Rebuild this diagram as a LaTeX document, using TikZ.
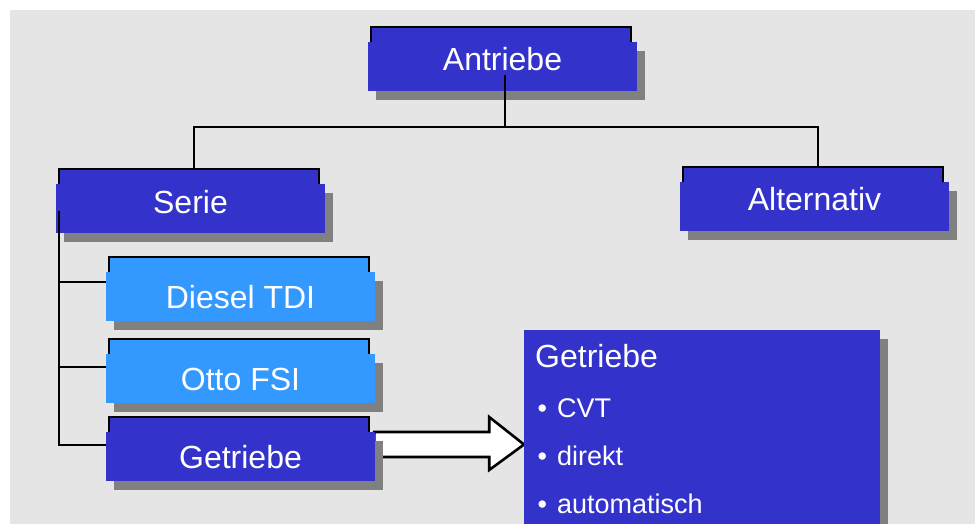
\documentclass[tikz,border=0pt]{standalone}
\usepackage{fontspec}
\setmainfont{Liberation Sans}
\usetikzlibrary{shadows,backgrounds}

\definecolor{boxblue}{RGB}{51,51,204}
\definecolor{lightblue}{RGB}{51,153,255}
\definecolor{shadowgray}{RGB}{128,128,128}
\definecolor{bggray}{RGB}{229,229,229}

\tikzset{
  chartbox/.style={fill=boxblue, text=white, inner sep=0pt,
    minimum width=269pt, minimum height=49pt,
    font=\fontsize{32}{36}\selectfont, text height=23pt, text depth=0pt,
    drop shadow={shadow xshift=8pt, shadow yshift=-9pt, fill=shadowgray, opacity=1}},
  headbox/.style={chartbox, text depth=14pt},
  enginebox/.style={chartbox, fill=lightblue},
  tab/.style={draw=black, line width=2pt},
  link/.style={line width=2pt},
  blockarrow/.style={draw=black, fill=white, line width=2.6pt, line join=miter},
  infotext/.style={text=white, anchor=base west, inner sep=0pt, font=\fontsize{27}{30}\selectfont}
}
\newcommand{\bulletitem}[1]{•\hspace{10pt}#1}

\begin{document}
\begin{tikzpicture}[x=1pt,y=-1pt]
\useasboundingbox (0,0) rectangle (975,524);

% boxes
\node[headbox] (top) at (502.5,66.5) {Antriebe};
\node[headbox] (serie) at (190.5,208.5) {Serie};
\node[headbox] (alt) at (814.5,206.5) {Alternativ};
\node[enginebox] (diesel) at (240.5,296.5) {Diesel TDI};
\node[enginebox] (otto) at (240.5,378.5) {Otto FSI};
\node[chartbox] (getr) at (240.5,456.5) {Getriebe};

% detail panel
\node[chartbox, anchor=north west, minimum width=356pt, minimum height=194pt] (info) at (524,330) {};
\node[infotext, font=\fontsize{32}{36}\selectfont] (infohead) at (535,367) {Getriebe};
\node[infotext] (cvt) at (537.5,417) {\bulletitem{CVT}};
\node[infotext] (direkt) at (537.5,465) {\bulletitem{direkt}};
\node[infotext] (auto) at (537.5,513) {\bulletitem{automatisch}};

% tree lines
\draw[link] ([xshift=2pt,yshift=-4pt]top.base) -- ++(0,52);
\draw[link] ([xshift=3pt,yshift=15pt]serie.north) -- ++(0,-42) -| ([xshift=3pt,yshift=15pt]alt.north);
\coordinate (trunk) at ([xshift=3pt,yshift=-2pt]serie.west);
\draw[link] (trunk) |- ([yshift=15pt]diesel.west);
\draw[link] (trunk) |- ([yshift=12pt]otto.west);
\draw[link] (trunk) |- ([yshift=12pt]getr.west);

\begin{scope}[on background layer]
  \fill[bggray] (10,10) rectangle (975,524);
  % tabs behind the boxes, open at the bottom
  \foreach \n/\c in {top/boxblue, serie/boxblue, alt/boxblue,
                     diesel/lightblue, otto/lightblue, getr/boxblue}
    \filldraw[tab, fill=\c] ([xshift=3pt]\n.north west) |- ([xshift=-6pt,yshift=15pt]\n.north east) -- ([xshift=-6pt]\n.north east);
  % block arrow
  \coordinate (a0) at ([xshift=-1pt,yshift=12pt]getr.east);
  \draw[blockarrow] ([yshift=12.5pt]a0) -- ++(115,0) -- ++(0,-15) -- (a0 -| info.west)
    -- ([xshift=115pt,yshift=-25.5pt]a0) -- ++(0,-13) -- ([yshift=-12.5pt]a0) -- cycle;
\end{scope}
\end{tikzpicture}
\end{document}
